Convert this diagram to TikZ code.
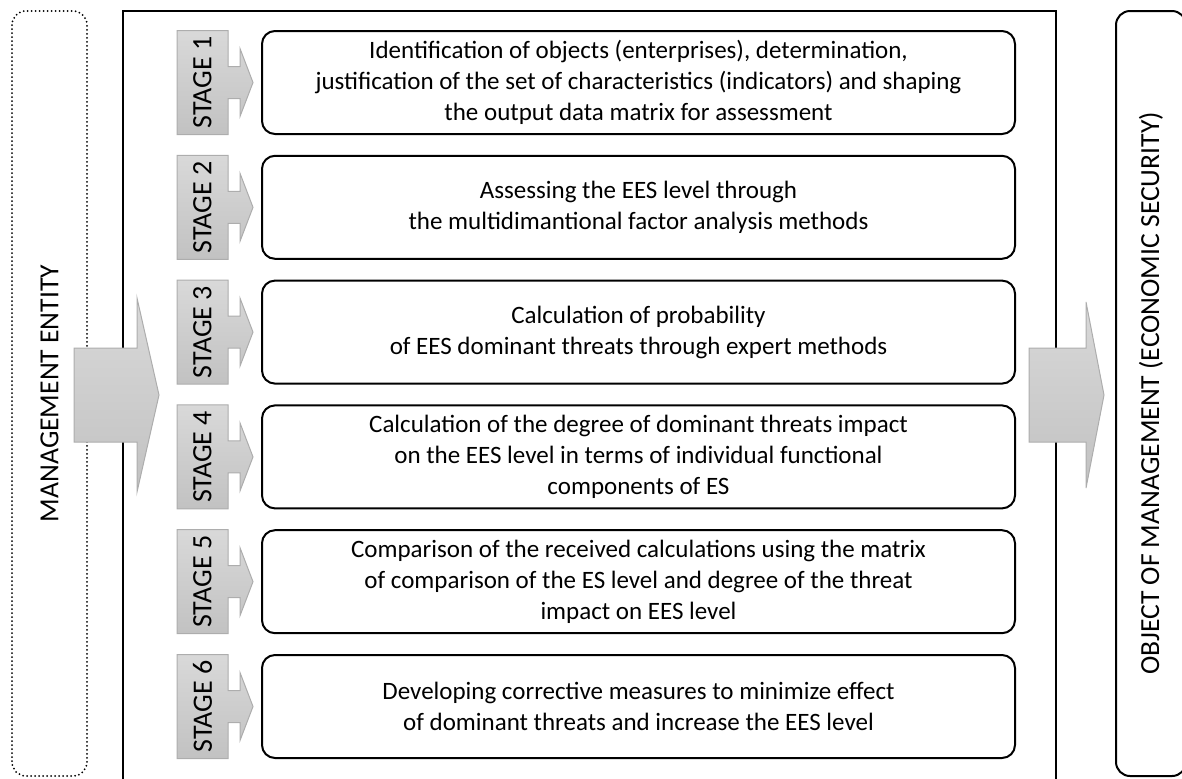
\documentclass[tikz,border=0pt]{standalone}
\usepackage{fontspec}
\setmainfont{Carlito}
\usetikzlibrary{positioning}

\tikzset{
  stepbox/.style={rectangle, draw, line width=1pt, rounded corners=6.5pt,
    minimum width=376.5pt, minimum height=51.5pt, align=center,
    font=\fontsize{12.5}{15.5}\selectfont},
  stagefill/.style={draw=black!32, line width=0.5pt, top color=black!15, bottom color=black!24},
  stagelabel/.style={rotate=90, inner sep=0pt, font=\fontsize{14}{15}\selectfont},
  sidebox/.style={rectangle, rotate=90, line width=1pt, rounded corners=7pt,
    minimum width=382.5pt, font=\fontsize{13.8}{15}\selectfont},
  dots/.style={line width=1pt, dash pattern=on 0pt off 2pt, line cap=round}
}

\begin{document}
\begin{tikzpicture}[x=0.5pt, y=-0.5pt]
\useasboundingbox (0,0) rectangle (1182,778);

% side boxes
\node[sidebox, dots, draw, minimum height=37.5pt] (entity) at (49.5,393.5) {MANAGEMENT ENTITY};
\node[sidebox, draw, minimum height=35pt] (object) at (1151,393.5) {OBJECT OF MANAGEMENT (ECONOMIC SECURITY)};

% frame, open at the bottom
\draw[line width=1pt] (123,790) -- (123,11) -- (1056,11) -- (1056,790);

% big arrows
\draw[stagefill] (74,348) -- (137,348) -- (137,298) -- (159,395) -- (137,492) -- (137,442) -- (74,442) -- cycle;
\draw[stagefill] (1029,348) -- (1086,348) -- (1086,302) -- (1104,395) -- (1086,488) -- (1086,442) -- (1029,442) -- cycle;

% stages
\foreach \i/\txt in {
  1/{Identification of objects (enterprises), determination,\\justification of the set of characteristics (indicators) and shaping\\the output data matrix for assessment},
  2/{Assessing the EES level through\\the multidimantional factor analysis methods},
  3/{Calculation of probability\\of EES dominant threats through expert methods},
  4/{Calculation of the degree of dominant threats impact\\on the EES level in terms of individual functional\\components of ES},
  5/{Comparison of the received calculations using the matrix\\of comparison of the ES level and degree of the threat\\impact on EES level},
  6/{Developing corrective measures to minimize effect\\of dominant threats and increase the EES level}}{
  \pgfmathsetmacro{\yc}{82.5+124.8*(\i-1)}
  \draw[stagefill] (177,\yc-52) -- (228,\yc-52) -- (228,\yc-16) -- (240,\yc-16) -- (240,\yc-34) -- (253,\yc)
    -- (240,\yc+34) -- (240,\yc+16) -- (228,\yc+16) -- (228,\yc+52) -- (177,\yc+52) -- cycle;
  \node[stagelabel] (st\i) at (202.5,\yc) {STAGE \i};
  \node[stepbox] (box\i) at (638.5,\yc) {\txt};
}

\end{tikzpicture}
\end{document}
